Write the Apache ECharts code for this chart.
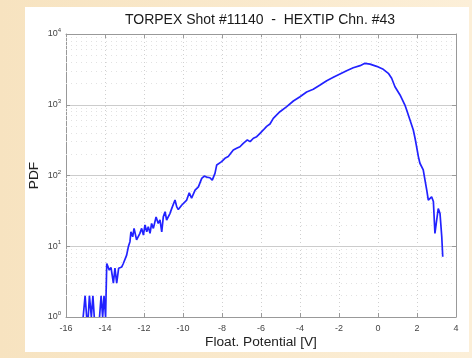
<!DOCTYPE html>
<html>
<head>
<meta charset="utf-8">
<script src="https://cdn.jsdelivr.net/npm/echarts@6/dist/echarts.min.js"></script>
<style>
html,body{margin:0;padding:0;}
#chart{width:472px;height:358px;}
</style>
</head>
<body>
<div id="chart"></div>
<script>
// Float potential (V) and PDF values
var potential = [
  -15.12, -15.02, -14.94, -14.90, -14.86, -14.80, -14.70, -14.62, -14.55, -14.40,
  -14.28, -14.20, -14.12, -14.05, -13.97, -13.91, -13.78, -13.69, -13.57, -13.49,
  -13.40, -13.30, -13.14, -13.06, -12.89, -12.80, -12.72, -12.67, -12.58, -12.51,
  -12.38, -12.21, -12.12, -12.03, -11.95, -11.86, -11.78, -11.69, -11.61, -11.52,
  -11.38, -11.27, -11.18, -11.09, -11.01, -10.92, -10.84, -10.67, -10.58, -10.41,
  -10.32, -10.24, -10.07, -9.81, -9.68, -9.56, -9.38, -9.21, -9.04, -8.91,
  -8.79, -8.62, -8.50, -8.44, -8.36, -8.27, -8.19, -8.02, -7.85, -7.68,
  -7.59, -7.42, -7.25, -7.16, -7.08, -6.91, -6.82, -6.70, -6.56, -6.39,
  -6.22, -6.05, -5.88, -5.71, -5.54, -5.37, -5.03, -4.68, -4.34, -4.00,
  -3.66, -3.32, -2.97, -2.63, -2.29, -1.95, -1.61, -1.27, -0.92, -0.67,
  -0.41, -0.07, 0.27, 0.53, 0.70, 0.87, 1.13, 1.38, 1.47, 1.64,
  1.81, 1.90, 1.98, 2.07, 2.15, 2.32, 2.41, 2.50, 2.58, 2.67,
  2.75, 2.84, 2.92, 3.01, 3.09, 3.18, 3.27, 3.32
];
var pdf = [
  1, 2, 1, null, 1, 2, 1, 2, 1, null,
  1, 2, 1, 2, 1, 5.7, 4.6, 5.0, 3.0, 4.9,
  3.0, 4.9, 5.1, 5.7, 7.5, 9.9, 11.6, 16, 13.6, 17.9,
  12.3, 15.2, 17.9, 14.4, 20, 16, 18.9, 15.2, 21, 17.9,
  26, 21, 23.5, 16, 26, 30.8, 23.5, 29, 34, 45,
  36, 33, 38, 45, 57, 48, 62, 69, 91, 98,
  95, 93, 86, 84, 107, 141, 149, 157, 175, 185,
  195, 229, 242, 229, 255, 285, 270, 318, 301, 336,
  354, 395, 440, 495, 535, 643, 797, 939, 1130, 1300,
  1514, 1653, 1900, 2188, 2444, 2720, 3030, 3340, 3567, 3855,
  3750, 3490, 3170, 2780, 2365, 1800, 1374, 991, 843, 609,
  440, 336, 255, 185, 149, 120, 86, 62, 45, 46,
  50, 43, 15.2, 23.5, 34, 29, 13.6, 7.1
];
var xTicks = [-16, -14, -12, -10, -8, -6, -4, -2, 0, 2, 4];
var yDecades = [1, 10, 100, 1000, 10000];
var titleText = 'TORPEX Shot #11140  -  HEXTIP Chn. #43';
var xLabel = 'Float. Potential [V]';
var yLabel = 'PDF';

var seriesData = potential.map(function (x, i) { return [x, pdf[i]]; });

// minor grid lines at 2..9 x 10^k
var minorLines = [];
for (var d = 0; d < yDecades.length - 1; d++) {
  for (var m = 2; m <= 9; m++) {
    minorLines.push({ yAxis: m * yDecades[d] });
  }
}

var font = '"Liberation Sans", Arial, sans-serif';
var chart = echarts.init(document.getElementById('chart'), null, { renderer: 'canvas' });
chart.setOption({
  animation: false,
  backgroundColor: {
    type: 'linear', x: 0, y: 0, x2: 1, y2: 0,
    colorStops: [{ offset: 0, color: '#f7e3c0' }, { offset: 1, color: '#fcefd8' }]
  },
  graphic: [
    { type: 'rect', z: -10, shape: { x: 25, y: 7, width: 444, height: 345 }, style: { fill: '#ffffff' } },
    { type: 'text', x: 260, y: 20, style: { text: titleText, font: '14px ' + font, fill: '#1a1a1a', textAlign: 'center', textVerticalAlign: 'middle' } }
  ],
  grid: { left: 66, right: 16, top: 34, bottom: 41, containLabel: false },
  xAxis: [{
    type: 'value', min: xTicks[0], max: xTicks[xTicks.length - 1], interval: 2,
    name: xLabel, nameLocation: 'middle', nameGap: 18, nameMoveOverlap: false,
    nameTextStyle: { fontFamily: font, fontSize: 13.7, color: '#222' },
    axisLine: { onZero: false, lineStyle: { color: '#999', width: 1 } },
    axisTick: { inside: true, length: 4, lineStyle: { color: '#999' } },
    axisLabel: { fontFamily: font, fontSize: 9, color: '#444', margin: 7 },
    splitLine: { show: true, lineStyle: { color: '#d0d0d0', type: [1, 3], width: 1 } }
  }, {
    type: 'value', position: 'top', min: xTicks[0], max: xTicks[xTicks.length - 1], interval: 2,
    axisLine: { onZero: false, lineStyle: { color: '#999', width: 1 } },
    axisTick: { inside: true, length: 4, lineStyle: { color: '#999' } },
    axisLabel: { show: false },
    splitLine: { show: false }
  }],
  yAxis: [{
    type: 'log', logBase: 10, min: 1, max: 10000,
    name: yLabel, nameLocation: 'middle', nameGap: 25, nameRotate: 90, nameMoveOverlap: false,
    nameTextStyle: { fontFamily: font, fontSize: 13.7, color: '#222' },
    axisLine: { show: true, onZero: false, lineStyle: { color: '#999', width: 1 } },
    axisTick: { inside: true, length: 4, lineStyle: { color: '#999' } },
    axisLabel: {
      margin: 5,
      formatter: function (v) {
        var e = Math.round(Math.log(v) / Math.LN10);
        return '{b|10}{s|' + e + '}';
      },
      rich: {
        b: { fontFamily: font, fontSize: 9, color: '#444' },
        s: { fontFamily: font, fontSize: 6, color: '#444', padding: [0, 0, 7, 0] }
      }
    },
    splitLine: { show: true, lineStyle: { color: '#cccccc', width: 1 } }
  }, {
    type: 'log', logBase: 10, min: 1, max: 10000, position: 'right',
    axisLine: { show: true, onZero: false, lineStyle: { color: '#999', width: 1 } },
    axisTick: { inside: true, length: 4, lineStyle: { color: '#999' } },
    axisLabel: { show: false },
    splitLine: { show: false }
  }],
  series: [{
    type: 'line',
    xAxisIndex: 0, yAxisIndex: 0,
    data: seriesData,
    showSymbol: false,
    connectNulls: false,
    lineStyle: { color: '#2222ff', width: 1.7 },
    itemStyle: { color: '#2222ff' },
    z: 5,
    markLine: {
      silent: true, symbol: 'none', label: { show: false },
      lineStyle: { color: '#e2e2e2', type: [1, 4], width: 1 },
      data: minorLines,
      z: 1
    }
  }]
});
</script>
</body>
</html>
